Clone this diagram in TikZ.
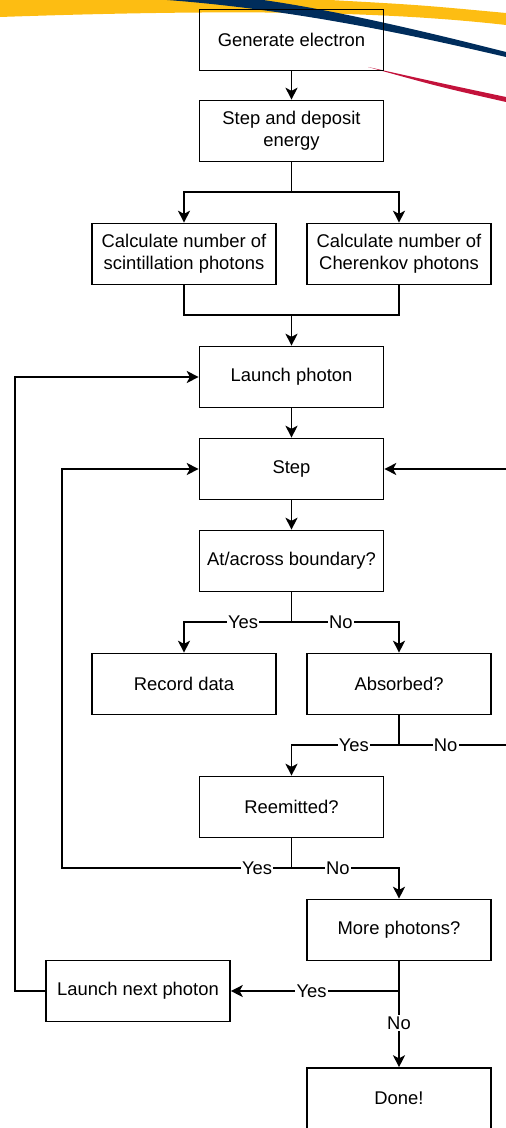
\documentclass[tikz,border=0pt]{standalone}
\usepackage{fontspec}
\setmainfont{Liberation Sans}
\usetikzlibrary{arrows.meta}
\definecolor{gold}{HTML}{FDBD12}
\definecolor{navy}{HTML}{002D5C}
\definecolor{crim}{HTML}{C3123B}
\begin{document}
\begin{tikzpicture}[x=.5pt,y=-.5pt,
  box/.style={draw,line width=.8pt,minimum width=92pt,minimum height=30.5pt,
    align=center,font=\fontsize{9.2}{11}\selectfont},
  lbl/.style={fill=white,inner sep=.6pt,font=\fontsize{9.2}{11}\selectfont},
  ln/.style={line width=.8pt},
  arr/.style={ln,-{Stealth[length=6pt,width=6pt,inset=1.6pt]}}]
  \useasboundingbox (0,0) rectangle (506,1128);
  % banner at the top
  \fill[gold] (0,0) -- (330,0) .. controls (420,5) .. (506,13) -- (506,25)
    .. controls (400,13) and (260,8) .. (0,17) -- cycle;
  \fill[navy] (263,0) .. controls (320,8) and (400,25) .. (506,52) -- (506,57)
    .. controls (420,37) and (300,10) .. (167,0) -- cycle;
  \fill[crim] (368,67) .. controls (440,83) .. (506,97) -- (506,102)
    .. controls (440,87) .. (368,67) -- cycle;
  % boxes
  \node[box] (gen) at (291.5,40) {Generate electron};
  \node[box] (dep) at (291.5,131) {Step and deposit\\energy};
  \node[box] (scin) at (184,254) {Calculate number of\\scintillation photons};
  \node[box] (cher) at (399,254) {Calculate number of\\Cherenkov photons};
  \node[box] (launch) at (291.5,377) {Launch photon};
  \node[box] (stp) at (291.5,469) {Step};
  \node[box] (bnd) at (291.5,561) {At/across boundary?};
  \node[box] (rec) at (184,684) {Record data};
  \node[box] (absd) at (399,684) {Absorbed?};
  \node[box] (reem) at (291.5,807) {Reemitted?};
  \node[box] (more) at (399,930) {More photons?};
  \node[box] (next) at (138,991) {Launch next photon};
  \node[box] (done) at (399,1098.5) {Done!};
  % junctions and corners
  \coordinate (s1) at (291.5,192);
  \coordinate (j1) at (291.5,315);
  \coordinate (s2) at (291.5,622);
  \coordinate (s3) at (399,745);
  \coordinate (r1) at (510,745);
  \coordinate (r2) at (510,469);
  \coordinate (s4) at (291.5,868);
  \coordinate (l1) at (62,868);
  \coordinate (l2) at (62,469);
  \coordinate (s5) at (399,991);
  \coordinate (l3) at (15,991);
  \coordinate (l4) at (15,377);
  % connectors
  \draw[arr] (gen) -- (dep);
  \draw[arr] (dep) -- (s1) -| (scin);
  \draw[arr] (s1) -| (cher);
  \draw[ln] (scin) |- (j1);
  \draw[ln] (cher) |- (j1);
  \draw[arr] (j1) -- (launch);
  \draw[arr] (launch) -- (stp);
  \draw[arr] (stp) -- (bnd);
  \draw[arr] (bnd) -- (s2) -| node[lbl,pos=.225]{Yes} (rec);
  \draw[arr] (s2) -| node[lbl,pos=.23]{No} (absd);
  \draw[arr] (absd) -- (s3) -| node[lbl,pos=.21]{Yes} (reem);
  \draw[arr] (s3) -- node[lbl,pos=.42]{No} (r1) -- (r2) -- (stp);
  \draw[arr] (reem) -- (s4) -- node[lbl,pos=.15]{Yes} (l1) -- (l2) -- (stp);
  \draw[arr] (s4) -| node[lbl,pos=.216]{No} (more);
  \draw[arr] (more) -- (s5) -- node[lbl,pos=.52]{Yes} (next);
  \draw[arr] (s5) -- node[lbl,pos=.42]{No} (done);
  \draw[arr] (next) -- (l3) -- (l4) -- (launch);
\end{tikzpicture}
\end{document}
